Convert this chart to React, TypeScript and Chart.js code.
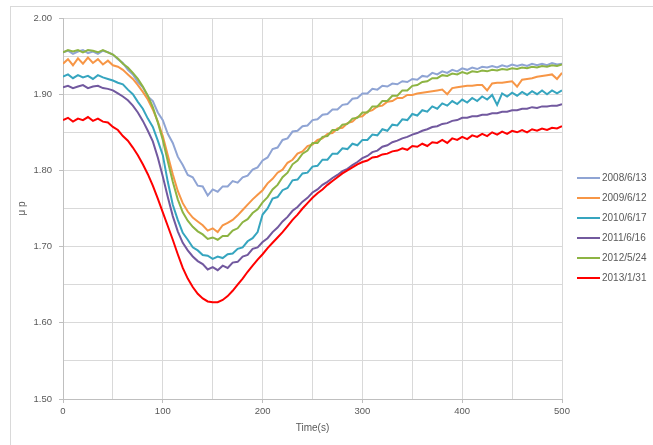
import React, { useEffect, useRef } from "react";
import { Chart, registerables } from "chart.js";

Chart.register(...registerables);

const STEP = 5;
const SERIES_NAMES = ["2008/6/13", "2009/6/12", "2010/6/17", "2011/6/16", "2012/5/24", "2013/1/31"];
const SERIES_COLORS = ["#8FA4D4", "#F79646", "#36A5BF", "#72599F", "#8DB443", "#FF0000"];
const X_TICK_LABELS = ["0", "100", "200", "300", "400", "500"];
const Y_TICK_LABELS = ["1.50", "1.60", "1.70", "1.80", "1.90", "2.00"];

const S2008 = [
  1.955, 1.957, 1.953, 1.956, 1.958, 1.954, 1.956, 1.953, 1.957, 1.955,
  1.952, 1.946, 1.941, 1.932, 1.926, 1.916, 1.909, 1.897, 1.891, 1.876,
  1.866, 1.848, 1.836, 1.818, 1.807, 1.794, 1.791, 1.780, 1.779, 1.767,
  1.775, 1.772, 1.779, 1.779, 1.786, 1.784, 1.791, 1.793, 1.801, 1.804,
  1.813, 1.817, 1.828, 1.830, 1.840, 1.842, 1.851, 1.852, 1.858, 1.859,
  1.866, 1.867, 1.873, 1.874, 1.880, 1.880, 1.886, 1.887, 1.894, 1.895,
  1.901, 1.901, 1.907, 1.906, 1.911, 1.910, 1.914, 1.913, 1.917, 1.916,
  1.920, 1.919, 1.924, 1.923, 1.928, 1.926, 1.930, 1.928, 1.932, 1.930,
  1.934, 1.932, 1.935, 1.933, 1.936, 1.935, 1.937, 1.935, 1.938, 1.936,
  1.939, 1.937, 1.939, 1.937, 1.940, 1.938, 1.940, 1.938, 1.941, 1.939,
  1.940,
];
const S2009 = [
  1.940, 1.946, 1.938, 1.947, 1.940, 1.948, 1.941, 1.946, 1.939, 1.944,
  1.938, 1.936, 1.932, 1.926, 1.920, 1.912, 1.903, 1.893, 1.880, 1.864,
  1.845, 1.820, 1.795, 1.773, 1.757, 1.746, 1.738, 1.733, 1.728, 1.721,
  1.724, 1.719, 1.728, 1.731, 1.735, 1.741, 1.748, 1.755, 1.762, 1.768,
  1.774, 1.783, 1.789, 1.797, 1.801, 1.810, 1.814, 1.822, 1.825, 1.832,
  1.834, 1.840, 1.842, 1.848, 1.849, 1.855, 1.856, 1.862, 1.864, 1.870,
  1.871, 1.877, 1.879, 1.884, 1.885, 1.890, 1.891, 1.895, 1.895, 1.899,
  1.899, 1.901, 1.902, 1.903, 1.904, 1.905, 1.906, 1.900, 1.908, 1.909,
  1.910, 1.911, 1.911, 1.912, 1.912, 1.905, 1.914, 1.915, 1.915, 1.916,
  1.917, 1.910, 1.919, 1.920, 1.921, 1.923, 1.924, 1.925, 1.926, 1.920,
  1.928,
];
const S2010 = [
  1.923, 1.926, 1.921, 1.925, 1.922, 1.924, 1.920, 1.925, 1.922, 1.920,
  1.918, 1.915, 1.913, 1.906, 1.900, 1.890, 1.881, 1.868, 1.857, 1.839,
  1.820, 1.785, 1.755, 1.735, 1.718, 1.709, 1.699, 1.695, 1.689, 1.688,
  1.684, 1.687, 1.685, 1.690, 1.691, 1.697, 1.699, 1.707, 1.711, 1.719,
  1.742, 1.750, 1.763, 1.765, 1.774, 1.777, 1.787, 1.788, 1.796, 1.797,
  1.805, 1.806, 1.814, 1.814, 1.822, 1.822, 1.829, 1.828, 1.835, 1.833,
  1.840, 1.840, 1.847, 1.846, 1.854, 1.852, 1.860, 1.859, 1.867, 1.866,
  1.874, 1.872, 1.879, 1.877, 1.884, 1.881, 1.888, 1.885, 1.891, 1.887,
  1.893, 1.889, 1.895, 1.891, 1.897, 1.893, 1.899, 1.886, 1.901, 1.897,
  1.902, 1.898, 1.903, 1.899, 1.904, 1.900, 1.905, 1.900, 1.905, 1.901,
  1.905,
];
const S2011 = [
  1.909, 1.911, 1.908, 1.910, 1.912, 1.908, 1.910, 1.911, 1.908, 1.907,
  1.905, 1.901, 1.897, 1.892, 1.885, 1.876, 1.865, 1.852, 1.838, 1.817,
  1.792, 1.765, 1.740, 1.720, 1.705, 1.695, 1.687, 1.681, 1.677, 1.670,
  1.673, 1.669, 1.675, 1.672, 1.679, 1.680, 1.687, 1.689, 1.697, 1.699,
  1.706, 1.711, 1.719, 1.725, 1.733, 1.739, 1.747, 1.752, 1.759, 1.764,
  1.771, 1.775, 1.781, 1.785, 1.790, 1.794, 1.799, 1.802, 1.807, 1.811,
  1.816, 1.819, 1.824, 1.826, 1.831, 1.833, 1.837, 1.839, 1.842, 1.844,
  1.847, 1.849, 1.852, 1.854, 1.857, 1.858, 1.861, 1.862, 1.865, 1.866,
  1.869, 1.869, 1.871, 1.871, 1.873, 1.873, 1.875, 1.875, 1.877, 1.877,
  1.879, 1.879, 1.881, 1.881, 1.883, 1.882, 1.884, 1.884, 1.885, 1.885,
  1.887,
];
const S2012 = [
  1.955, 1.958, 1.956, 1.958, 1.955, 1.958, 1.957, 1.955, 1.958, 1.955,
  1.952, 1.947, 1.940, 1.935, 1.928, 1.920, 1.910, 1.898, 1.883, 1.863,
  1.840, 1.812, 1.785, 1.762, 1.745, 1.734, 1.726, 1.720, 1.716, 1.710,
  1.712, 1.709, 1.714, 1.714, 1.721, 1.724, 1.732, 1.736, 1.744, 1.749,
  1.758, 1.765, 1.775, 1.781, 1.791, 1.797, 1.808, 1.813, 1.822, 1.826,
  1.836, 1.836, 1.844, 1.845, 1.853, 1.853, 1.860, 1.861, 1.868, 1.869,
  1.876, 1.876, 1.884, 1.884, 1.891, 1.891, 1.898, 1.898, 1.905, 1.905,
  1.911, 1.912, 1.916, 1.917, 1.921, 1.921, 1.925, 1.924, 1.927, 1.926,
  1.929, 1.927, 1.930, 1.929, 1.931, 1.930, 1.932, 1.931, 1.933, 1.932,
  1.934, 1.933, 1.935, 1.934, 1.936, 1.935, 1.937, 1.936, 1.938, 1.937,
  1.939,
];
const S2013 = [
  1.866, 1.869, 1.864, 1.868, 1.866, 1.870, 1.865, 1.868, 1.864, 1.863,
  1.857, 1.853, 1.845, 1.839, 1.830, 1.820, 1.808, 1.795, 1.780, 1.763,
  1.745, 1.727, 1.709, 1.690, 1.672, 1.658, 1.647, 1.638, 1.632, 1.628,
  1.627, 1.627, 1.630, 1.635, 1.642, 1.650, 1.658, 1.667, 1.675, 1.683,
  1.690, 1.698, 1.705, 1.712, 1.719, 1.727, 1.735, 1.742, 1.750, 1.757,
  1.764, 1.770, 1.775, 1.781, 1.786, 1.791, 1.796, 1.800, 1.804, 1.808,
  1.811, 1.813, 1.817, 1.818, 1.821, 1.822, 1.825, 1.826, 1.829, 1.827,
  1.832, 1.831, 1.835, 1.832, 1.837, 1.836, 1.840, 1.836, 1.842, 1.840,
  1.844, 1.841, 1.846, 1.844, 1.848, 1.845, 1.850, 1.847, 1.851, 1.848,
  1.852, 1.850, 1.853, 1.850, 1.854, 1.852, 1.855, 1.853, 1.856, 1.855,
  1.858,
];
const SERIES = [S2008, S2009, S2010, S2011, S2012, S2013];

const FONT = "'Liberation Sans', Arial, sans-serif";
const TEXT_COLOR = "#595959";

const legendPlugin = {
  id: "sideLegend",
  afterDraw(chart: any) {
    const ctx = chart.ctx;
    ctx.save();
    const x0 = 577;
    const y0 = 178;
    const gap = 20;
    chart.data.datasets.forEach((ds: any, i: number) => {
      const y = y0 + i * gap;
      ctx.strokeStyle = ds.borderColor;
      ctx.lineWidth = 2;
      ctx.beginPath();
      ctx.moveTo(x0, y);
      ctx.lineTo(x0 + 23, y);
      ctx.stroke();
      ctx.fillStyle = TEXT_COLOR;
      ctx.font = `10px ${FONT}`;
      ctx.textAlign = "left";
      ctx.textBaseline = "middle";
      ctx.fillText(ds.label, x0 + 25, y);
    });
    ctx.restore();
  },
};

export default function App() {
  const ref = useRef<HTMLCanvasElement | null>(null);
  useEffect(() => {
    if (!ref.current) return;
    const datasets = SERIES.map((vals, i) => ({
      label: SERIES_NAMES[i],
      data: vals.map((v, k) => ({ x: k * STEP, y: v })),
      borderColor: SERIES_COLORS[i],
      backgroundColor: SERIES_COLORS[i],
      borderWidth: 2,
      pointRadius: 0,
      tension: 0,
      fill: false,
      order: SERIES.length - 1 - i,
    }));
    const chart = new Chart(ref.current, {
      type: "line",
      data: { datasets },
      plugins: [legendPlugin],
      options: {
        animation: false,
        responsive: false,
        devicePixelRatio: 1,
        layout: { padding: { left: 0, top: 18, right: 91, bottom: 0 } },
        plugins: { legend: { display: false }, tooltip: { enabled: false } },
        scales: {
          x: {
            type: "linear",
            min: 0,
            max: 500,
            afterFit: (s: any) => {
              s.height = 46;
            },
            ticks: {
              stepSize: 50,
              autoSkip: false,
              maxRotation: 0,
              padding: 3,
              color: TEXT_COLOR,
              font: { family: FONT, size: 9.5 },
              callback: (v: any) => {
                const idx = X_TICK_LABELS.indexOf(String(v));
                return idx >= 0 ? X_TICK_LABELS[idx] : "";
              },
            },
            grid: {
              color: "#d9d9d9",
              lineWidth: 1,
              tickLength: 4,
              tickColor: (c: any) => (c.tick && c.tick.value % 100 === 0 ? "#bfbfbf" : "rgba(0,0,0,0)"),
            },
            border: { color: "#bfbfbf" },
            title: {
              display: true,
              text: "Time(s)",
              color: TEXT_COLOR,
              font: { family: FONT, size: 10 },
              padding: { top: 0, bottom: 11 },
            },
          },
          y: {
            min: 1.5,
            max: 2.0,
            afterFit: (s: any) => {
              s.width = 63;
            },
            ticks: {
              stepSize: 0.05,
              autoSkip: false,
              padding: 7,
              color: TEXT_COLOR,
              font: { family: FONT, size: 9.5 },
              callback: (v: any) => {
                const lbl = Number(v).toFixed(2);
                return Y_TICK_LABELS.indexOf(lbl) >= 0 ? lbl : "";
              },
            },
            grid: {
              color: "#d9d9d9",
              lineWidth: 1,
              tickLength: 4,
              tickColor: (c: any) =>
                c.tick && Y_TICK_LABELS.indexOf(Number(c.tick.value).toFixed(2)) >= 0 ? "#bfbfbf" : "rgba(0,0,0,0)",
            },
            border: { color: "#bfbfbf" },
            title: {
              display: true,
              text: "μ p",
              color: TEXT_COLOR,
              font: { family: FONT, size: 10 },
              padding: { top: 16, bottom: 0 },
            },
          },
        },
      } as any,
    });
    return () => chart.destroy();
  }, []);

  return (
    <div style={{ position: "fixed", left: 0, top: 0, width: 653, height: 445, overflow: "hidden", background: "#fff" }}>
      <div
        style={{
          position: "absolute",
          left: 10,
          top: 6,
          width: 700,
          height: 500,
          border: "1px solid #d9d9d9",
        }}
      />
      <canvas ref={ref} width={653} height={445} style={{ position: "absolute", left: 0, top: 0, width: 653, height: 445 }} />
    </div>
  );
}
